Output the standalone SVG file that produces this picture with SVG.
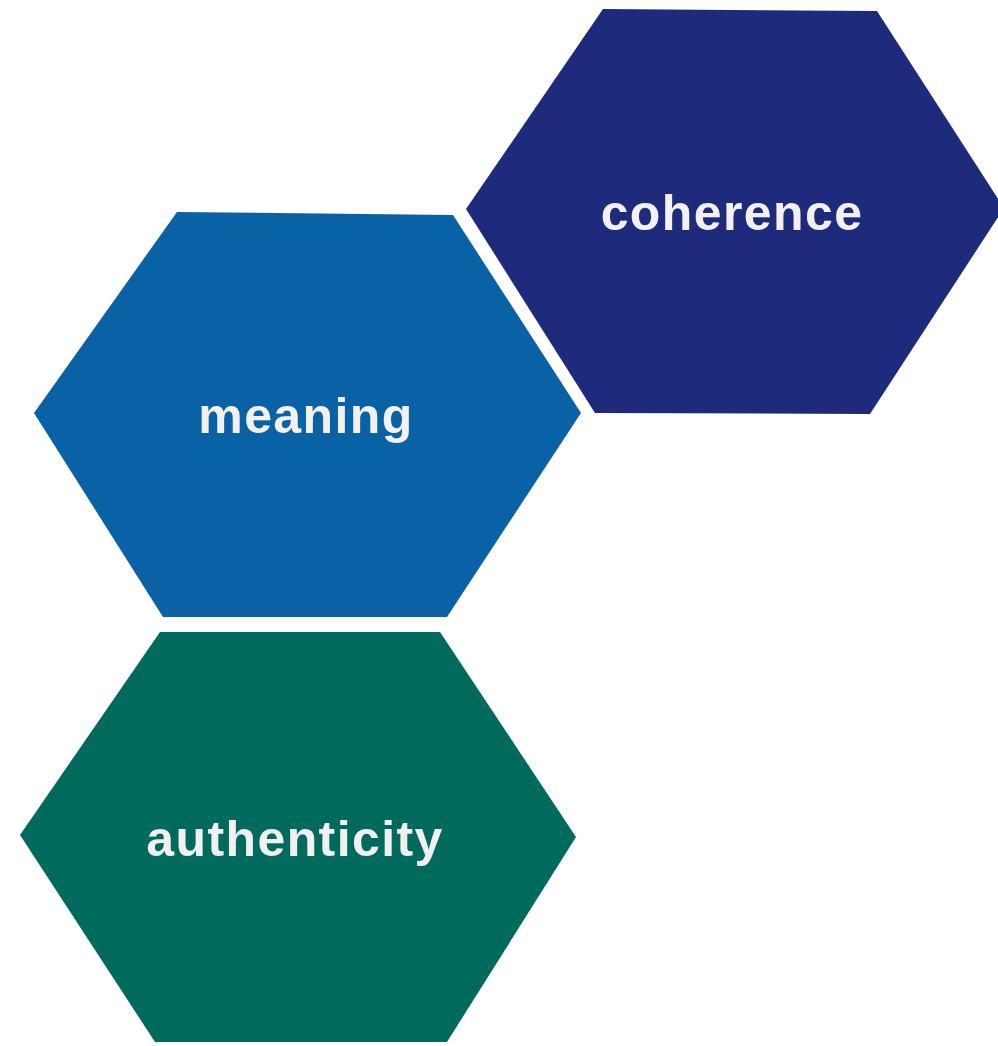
<svg xmlns="http://www.w3.org/2000/svg" width="998" height="1046" viewBox="0 0 998 1046">
<style>
.lbl{font-family:"Liberation Sans",Arial,sans-serif;font-weight:bold;font-size:50px;fill:#f3f0f0;text-anchor:middle;letter-spacing:1.4px}
</style>
<rect width="998" height="1046" fill="#ffffff"/>
<g id="connectors"></g>
<g id="coherence">
<polygon points="603,9 877,11 1004,208 870,414 595,413 466,209" fill="#1e2a7c"/>
<text class="lbl" x="732" y="230">coherence</text>
</g>
<g id="meaning">
<polygon points="177,212 453,215 581,413 447,617 163,617 34,413" fill="#0962a5"/>
<text class="lbl" x="306" y="433">meaning</text>
</g>
<g id="authenticity">
<polygon points="160,632 440,632 576,837 447,1042 155,1042 20,835" fill="#006b5c"/>
<text class="lbl" x="295" y="856">authenticity</text>
</g>
</svg>
